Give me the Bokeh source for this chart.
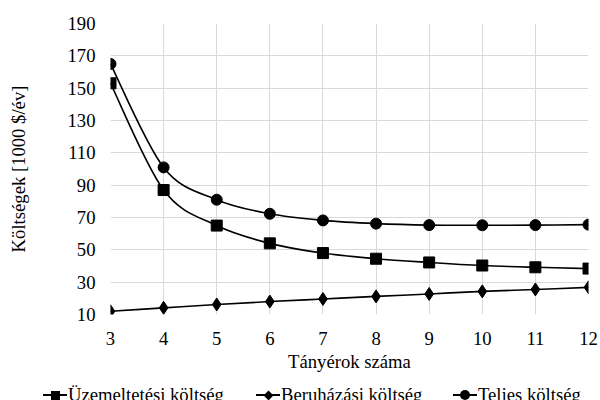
import numpy as np
from bokeh.plotting import figure
from bokeh.layouts import column
from bokeh.models import Range1d, FixedTicker, ColumnDataSource, Div
from bokeh.embed import file_html
from bokeh.resources import INLINE

# Data
tanyerok = [3, 4, 5, 6, 7, 8, 9, 10, 11, 12]
uzemeltetesi = [153, 87, 65, 54, 48, 44.5, 42.2, 40.3, 39.2, 38.4]
beruhazasi = [12, 14.1, 16.2, 18, 19.6, 21.2, 22.7, 24.3, 25.5, 26.8]
teljes = [165, 101, 81, 72.3, 68.2, 66.2, 65.3, 65.2, 65.3, 65.6]
y_ticks = [10, 30, 50, 70, 90, 110, 130, 150, 170, 190]
series_names = ["Üzemeltetési költség", "Beruházási költség", "Teljes költség"]

FONT = "Liberation Serif"
FS = "18.67px"

p = figure(frame_width=478, frame_height=291, output_backend="svg", toolbar_location=None,
           x_range=Range1d(3, 12), y_range=Range1d(10, 190),
           min_border_left=110, min_border_right=12, min_border_top=23, min_border_bottom=66)
p.outline_line_color = None
p.background_fill_color = "white"
p.border_fill_color = "white"

for ax in (p.xaxis[0], p.yaxis[0]):
    ax.axis_line_color = None
    ax.major_tick_line_color = None
    ax.minor_tick_line_color = None
    ax.major_tick_out = 0
    ax.major_tick_in = 0
    ax.minor_tick_out = 0
    ax.minor_tick_in = 0
    ax.major_label_text_font = FONT
    ax.major_label_text_font_size = FS
    ax.major_label_text_color = "#000000"
    ax.axis_label_text_font = FONT
    ax.axis_label_text_font_size = FS
    ax.axis_label_text_font_style = "normal"
    ax.axis_label_text_color = "#000000"

p.xaxis.ticker = FixedTicker(ticks=tanyerok)
p.yaxis.ticker = FixedTicker(ticks=y_ticks)
p.xaxis.axis_label = "Tányérok száma"
p.yaxis.axis_label = "Költségek [1000 $/év]"
p.xaxis.major_label_standoff = 17
p.yaxis.major_label_standoff = 15
p.xaxis.axis_label_standoff = 3
p.yaxis.axis_label_standoff = 36

p.xgrid.ticker = FixedTicker(ticks=tanyerok)
p.ygrid.ticker = FixedTicker(ticks=y_ticks)
p.xgrid.grid_line_color = "#d9d9d9"
p.ygrid.grid_line_color = "#d9d9d9"
p.xgrid.grid_line_width = 1
p.ygrid.grid_line_width = 1


def smooth_segments(xs, ys, t=1.0 / 6.0):
    x = np.asarray(xs, dtype=float)
    y = np.asarray(ys, dtype=float)
    n = len(x)
    xp = np.concatenate([[x[0]], x, [x[-1]]])
    yp = np.concatenate([[y[0]], y, [y[-1]]])
    x0 = x[:-1]; y0 = y[:-1]; x1 = x[1:]; y1 = y[1:]
    cx0 = x0 + (xp[2:n + 1] - xp[0:n - 1]) * t
    cy0 = y0 + (yp[2:n + 1] - yp[0:n - 1]) * t
    cx1 = x1 - (xp[3:n + 2] - xp[1:n]) * t
    cy1 = y1 - (yp[3:n + 2] - yp[1:n]) * t
    return dict(x0=x0, y0=y0, x1=x1, y1=y1, cx0=cx0, cy0=cy0, cx1=cx1, cy1=cy1)


series = [
    (uzemeltetesi, "square", 11),
    (beruhazasi, "diamond", 13),
    (teljes, "circle", 11),
]

for vals, marker, size in series:
    seg = ColumnDataSource(smooth_segments(tanyerok, vals))
    p.bezier(x0="x0", y0="y0", x1="x1", y1="y1", cx0="cx0", cy0="cy0",
             cx1="cx1", cy1="cy1", source=seg, line_color="black", line_width=1.6)
    p.scatter(tanyerok, vals, marker=marker, size=size,
              fill_color="black", line_color="black")

# legend strip (HTML) below the chart
leg_x = [38, 251, 448]
marker_css = {
    "square": "width:9px;height:9px;left:{l}px;top:5.5px;",
    "diamond": "width:7px;height:7px;left:{l2}px;top:6.5px;transform:rotate(45deg);",
    "circle": "width:10px;height:10px;left:{l3}px;top:5px;border-radius:50%;",
}
parts = []
for (vals, marker, size), name, x in zip(series, series_names, leg_x):
    parts.append(
        f'<div style="position:absolute;left:{x}px;top:9px;width:24px;height:2px;background:#000;"></div>')
    css = marker_css[marker].format(l=x + 7.5, l2=x + 8.5, l3=x + 7)
    parts.append(f'<div style="position:absolute;background:#000;{css}"></div>')
    parts.append(
        f'<span style="position:absolute;left:{x + 25}px;top:0px;line-height:20px;'
        f'white-space:nowrap;">{name}</span>')

html_leg = (
    f'<div style="position:relative;width:600px;height:20px;font-family:\'{FONT}\';'
    f'font-size:{FS};color:#000;">' + "".join(parts) + "</div>"
)
leg = Div(text=html_leg, width=600, height=20)

layout = column(p, leg, spacing=0)
html = file_html(layout, INLINE)
open("out.html", "w").write(html)
